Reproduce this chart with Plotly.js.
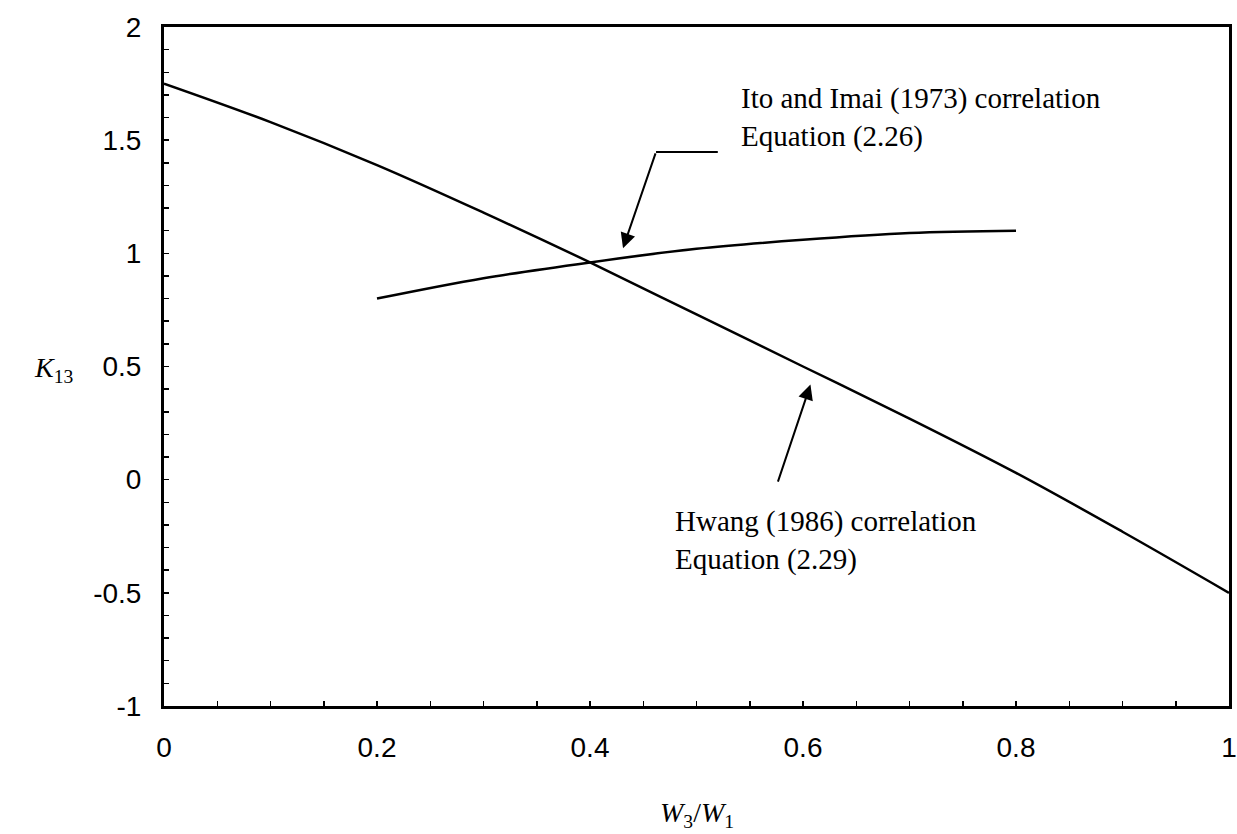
<!DOCTYPE html>
<html>
<head>
<meta charset="utf-8">
<script src="https://cdn.plot.ly/plotly-3.0.1.min.js"></script>
<style>html,body{margin:0;padding:0;background:#fff;}#chart{width:1237px;height:834px;}</style>
</head>
<body>
<div id="chart"></div>
<script>
// Hwang (1986) correlation, Equation (2.29)
const hwangX = [0, 0.1, 0.2, 0.3, 0.4, 0.5, 0.6, 0.7, 0.8, 0.9, 1.0];
const hwangY = [1.75, 1.58, 1.39, 1.18, 0.96, 0.73, 0.50, 0.27, 0.03, -0.23, -0.50];
// Ito and Imai (1973) correlation, Equation (2.26)
const itoX = [0.2, 0.3, 0.4, 0.5, 0.6, 0.7, 0.8];
const itoY = [0.80, 0.89, 0.96, 1.02, 1.06, 1.09, 1.10];

const xTickVals = [0, 0.2, 0.4, 0.6, 0.8, 1];
const xTickText = ['0', '0.2', '0.4', '0.6', '0.8', '1'];
const yTickVals = [-1, -0.5, 0, 0.5, 1, 1.5, 2];
const yTickText = ['-1', '-0.5', '0', '0.5', '1', '1.5', '2'];

const traces = [
  {x: hwangX, y: hwangY, mode: 'lines', line: {color: '#000', width: 2.5, shape: 'spline'}, name: 'Hwang (1986)'},
  {x: itoX, y: itoY, mode: 'lines', line: {color: '#000', width: 2.5, shape: 'spline'}, name: 'Ito and Imai (1973)'}
];

const serif = 'Liberation Serif, Times New Roman, serif';
const sans = 'Liberation Sans, Arial, sans-serif';

const layout = {
  width: 1237, height: 834,
  margin: {l: 164, r: 8, t: 27, b: 128},
  paper_bgcolor: '#fff', plot_bgcolor: '#fff',
  showlegend: false,
  xaxis: {
    range: [0, 1], tickvals: xTickVals, ticktext: xTickText,
    showgrid: false, zeroline: false,
    showline: true, linecolor: '#000', linewidth: 3, mirror: true,
    ticks: 'inside', ticklen: 5, tickwidth: 1.5, tickcolor: '#000',
    minor: {dtick: 0.05, ticks: 'inside', ticklen: 5, tickwidth: 1.5, tickcolor: '#000', showgrid: false},
    tickfont: {family: sans, size: 28, color: '#000'},
    ticklabelstandoff: 14
  },
  yaxis: {
    range: [-1, 2], tickvals: yTickVals, ticktext: yTickText,
    showgrid: false, zeroline: false,
    showline: true, linecolor: '#000', linewidth: 3, mirror: true,
    ticks: 'inside', ticklen: 5, tickwidth: 1.5, tickcolor: '#000',
    minor: {dtick: 0.1, ticks: 'inside', ticklen: 5, tickwidth: 1.5, tickcolor: '#000', showgrid: false},
    tickfont: {family: sans, size: 28, color: '#000'},
    ticklabelstandoff: 14
  },
  shapes: [
    {type: 'line', xref: 'x', yref: 'y', x0: 0.462, y0: 1.448, x1: 0.520, y1: 1.448, line: {color: '#000', width: 2}}
  ],
  annotations: [
    {xref: 'x', yref: 'y', x: 0.540, y: 1.60, xanchor: 'left', yanchor: 'middle', align: 'left', showarrow: false,
     text: 'Ito and Imai (1973) correlation<br>Equation (2.26)', font: {family: serif, size: 29, color: '#000'}},
    {xref: 'x', yref: 'y', x: 0.478, y: -0.27, xanchor: 'left', yanchor: 'middle', align: 'left', showarrow: false,
     text: 'Hwang (1986) correlation<br>Equation (2.29)', font: {family: serif, size: 29, color: '#000'}},
    {xref: 'x', yref: 'y', axref: 'x', ayref: 'y', x: 0.431, y: 1.023, ax: 0.462, ay: 1.448, text: '', showarrow: true,
     arrowhead: 2, arrowsize: 1.5, arrowwidth: 2, arrowcolor: '#000', standoff: 0, startstandoff: 0},
    {xref: 'x', yref: 'y', axref: 'x', ayref: 'y', x: 0.607, y: 0.42, ax: 0.576, ay: -0.015, text: '', showarrow: true,
     arrowhead: 2, arrowsize: 1.5, arrowwidth: 2, arrowcolor: '#000', standoff: 0, startstandoff: 0},
    {xref: 'paper', yref: 'paper', x: -0.104, y: 0.495, xanchor: 'center', yanchor: 'middle', showarrow: false,
     text: '<i>K</i><sub>13</sub>', font: {family: serif, size: 28, color: '#000'}},
    {xref: 'paper', yref: 'paper', x: 0.5, y: -0.16, xanchor: 'center', yanchor: 'middle', showarrow: false,
     text: '<i>W</i><sub>3</sub>/<i>W</i><sub>1</sub>', font: {family: serif, size: 28, color: '#000'}}
  ]
};

Plotly.newPlot('chart', traces, layout, {staticPlot: true, displayModeBar: false});
</script>
</body>
</html>
